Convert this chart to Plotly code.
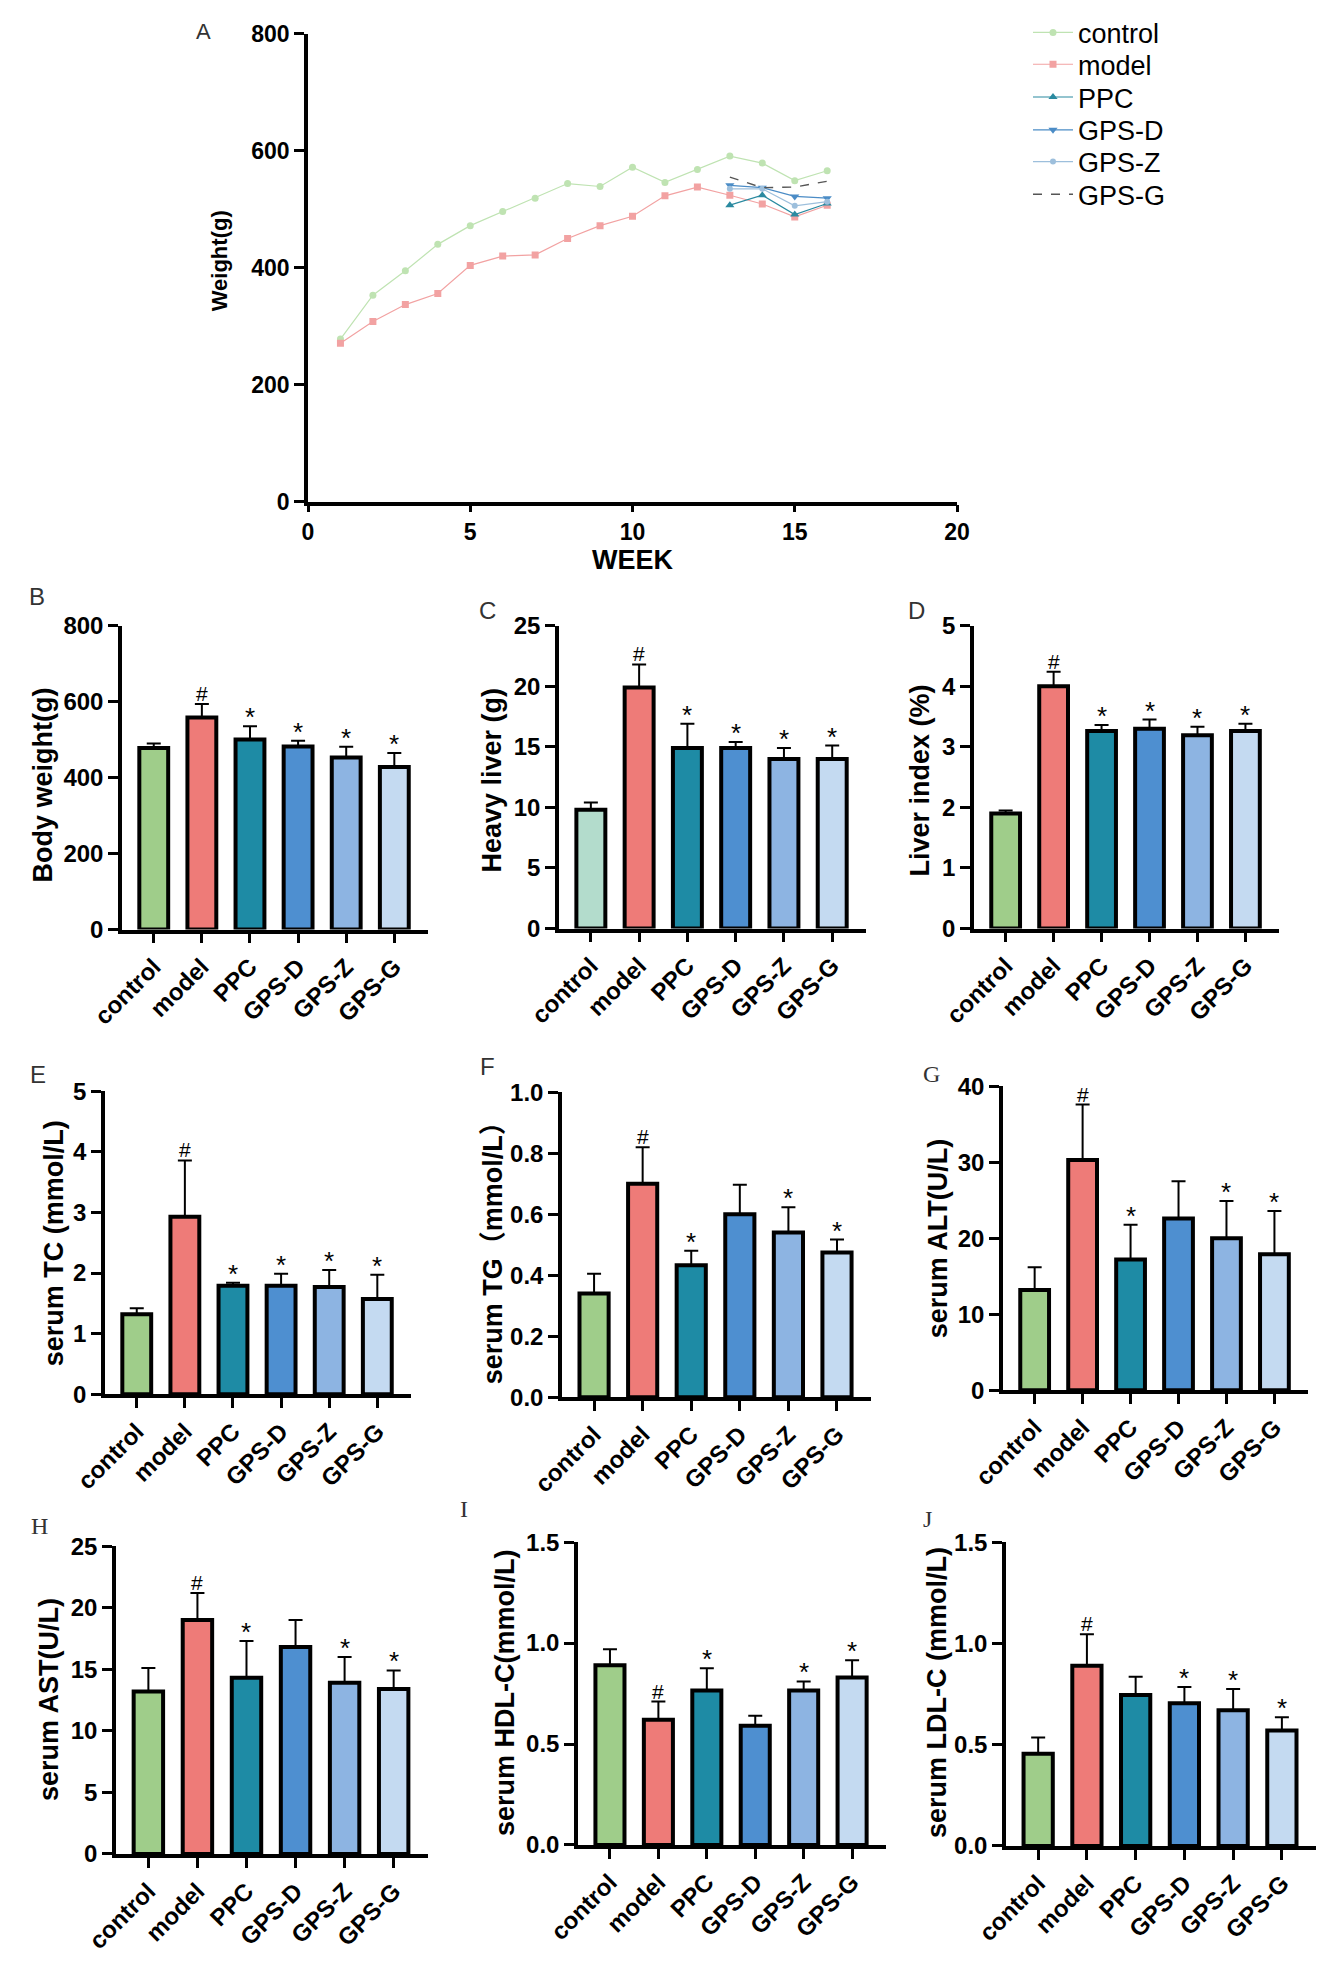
import plotly.graph_objects as go

W, H = 1325, 1972
# small page offset correction; positions below are in page pixels
OX, OY = 2, 12

# ---- panel A data (weekly body weight, g) ----
weeks = list(range(1, 17))
weeks_late = [13, 14, 15, 16]
control_w = [278, 353, 395, 440, 472, 496, 519, 544, 539, 572, 546, 568, 591, 579, 549, 566]
model_w = [271, 308, 337, 356, 404, 420, 422, 450, 472, 488, 523, 538, 524, 509, 487, 507]
ppc_w = [507, 524, 491, 510]
gpsd_w = [541, 537, 522, 519]
gpsz_w = [535, 535, 506, 513]
gpsg_w = [555, 537, 538, 548]

# ---- bar panels ----
groups = ["control", "model", "PPC", "GPS-D", "GPS-Z", "GPS-G"]

body_weight = [478, 558, 500, 482, 453, 428]
body_weight_err = [12, 36, 35, 15, 28, 37]
body_weight_sig = ["", "#", "*", "*", "*", "*"]

liver_weight = [9.8, 19.9, 14.9, 14.9, 14.0, 14.0]
liver_weight_err = [0.6, 1.9, 2.0, 0.5, 0.9, 1.1]
liver_weight_sig = ["", "#", "*", "*", "*", "*"]

liver_index = [1.90, 4.00, 3.26, 3.30, 3.19, 3.26]
liver_index_err = [0.05, 0.24, 0.10, 0.15, 0.14, 0.12]
liver_index_sig = ["", "#", "*", "*", "*", "*"]

tc = [1.32, 2.93, 1.79, 1.79, 1.77, 1.57]
tc_err = [0.10, 0.93, 0.05, 0.20, 0.28, 0.40]
tc_sig = ["", "#", "*", "*", "*", "*"]

tg = [0.34, 0.70, 0.433, 0.60, 0.54, 0.475]
tg_err = [0.065, 0.12, 0.047, 0.097, 0.083, 0.042]
tg_sig = ["", "#", "*", "", "*", "*"]

alt = [13.2, 30.3, 17.2, 22.6, 20.0, 17.9]
alt_err = [3.0, 7.3, 4.6, 4.9, 4.9, 5.7]
alt_sig = ["", "#", "*", "", "*", "*"]

ast = [13.2, 19.0, 14.3, 16.8, 13.9, 13.4]
ast_err = [1.9, 2.2, 3.0, 2.2, 2.1, 1.5]
ast_sig = ["", "#", "*", "", "*", "*"]

hdl = [0.89, 0.62, 0.765, 0.59, 0.765, 0.83]
hdl_err = [0.08, 0.09, 0.11, 0.05, 0.045, 0.085]
hdl_sig = ["", "#", "*", "", "*", "*"]

ldl = [0.455, 0.89, 0.745, 0.705, 0.67, 0.57]
ldl_err = [0.08, 0.155, 0.09, 0.08, 0.105, 0.065]
ldl_sig = ["", "#", "", "*", "*", "*"]

bar_colors = ["#9fcd8a", "#ee7b78", "#1e8ba5", "#4e8fd0", "#8db4e2", "#c4daf1"]
c_colors = ["#b3dccc", "#ee7b78", "#1e8ba5", "#4e8fd0", "#8db4e2", "#c4daf1"]

SANS = "Liberation Sans, Arial, Noto Sans CJK SC"
SERIF = "Liberation Serif, Times New Roman"


def px(x):
    return (x - OX) / W


def py(y):
    return 1 - (y - OY) / H


fig = go.Figure()
annotations = []
layout = {}

# ---- panel A ----
line_specs = [
    ("control", weeks, control_w, "#bfe3b2", "circle", 7, "solid"),
    ("model", weeks, model_w, "#f2a2a2", "square", 7, "solid"),
    ("PPC", weeks_late, ppc_w, "#2a8aa0", "triangle-up", 8, "solid"),
    ("GPS-D", weeks_late, gpsd_w, "#4b8cc6", "triangle-down", 8, "solid"),
    ("GPS-Z", weeks_late, gpsz_w, "#9dbfdc", "circle", 6, "solid"),
]
legend_rows = [23, 55, 88, 121, 153, 186]
legend_ids = ["legend", "legend2", "legend3", "legend4", "legend5", "legend6"]

for k, (name, xs, ys, col, sym, sz, dash) in enumerate(line_specs):
    fig.add_trace(go.Scatter(
        x=xs, y=ys, name=name, mode="lines+markers",
        line=dict(color=col, width=1.2, dash=dash),
        marker=dict(color=col, symbol=sym, size=sz),
        xaxis="x", yaxis="y", legend=legend_ids[k],
    ))
fig.add_trace(go.Scatter(
    x=weeks_late, y=gpsg_w, name="GPS-G", mode="lines",
    line=dict(color="#555555", width=1.4, dash="dash"),
    xaxis="x", yaxis="y", legend=legend_ids[5],
))
for lid, ry in zip(legend_ids, legend_rows):
    layout[lid] = dict(
        x=px(1022), y=py(ry), xanchor="left", yanchor="middle",
        font=dict(size=27, family=SANS), itemwidth=40,
        bgcolor="rgba(0,0,0,0)", borderwidth=0,
    )

axis_common = dict(
    showline=True, linecolor="black", linewidth=3.5, ticks="outside",
    tickwidth=3, ticklen=10, tickcolor="black", showgrid=False, zeroline=False,
    automargin=False, ticklabeloverflow="allow",
)

layout.update(
    width=W, height=H, margin=dict(l=0, r=0, t=0, b=0),
    paper_bgcolor="white", plot_bgcolor="white",
    font=dict(family=SANS, color="black"),
    showlegend=True,
    xaxis=dict(
        domain=[px(302), px(951)], range=[0, 20], dtick=5, anchor="y",
        tickfont=dict(size=23, weight="bold"), **{**axis_common, "ticklen": 7},
        title=dict(text="WEEK", font=dict(size=27, weight="bold"), standoff=6),
    ),
    yaxis=dict(
        domain=[py(495), py(24)], range=[0, 800], dtick=200, anchor="x",
        tickfont=dict(size=23, weight="bold"), **axis_common,
    ),
)
annotations.append(dict(
    text="Weight(g)", x=px(213), y=py(253), xref="paper", yref="paper",
    textangle=-90, showarrow=False, font=dict(size=22, weight="bold", family=SANS),
    xanchor="center", yanchor="middle",
))
annotations.append(dict(
    text="A", x=px(197), y=py(22), xref="paper", yref="paper", showarrow=False,
    font=dict(size=22, family=SANS, color="#333"), xanchor="center", yanchor="middle",
))

# ---- bar panels ----
panels = [
    (body_weight, body_weight_err, body_weight_sig, 800, 200, None, "Body weight(g)", "B", SANS, bar_colors,
     (116, 422, 620, 926), (37, 781), (31, 591)),
    (liver_weight, liver_weight_err, liver_weight_sig, 25, 5, None, "Heavy liver (g)", "C", SANS, c_colors,
     (553, 860, 620, 925), (486, 776), (482, 605)),
    (liver_index, liver_index_err, liver_index_sig, 5, 1, None, "Liver index (%)", "D", SANS, bar_colors,
     (968, 1273, 620, 925), (914, 776), (910, 605)),
    (tc, tc_err, tc_sig, 5, 1, None, "serum TC (mmol/L)", "E", SANS, bar_colors,
     (99, 405, 1089, 1394), (48, 1242), (32, 1072)),
    (tg, tg_err, tg_sig, 1.0, 0.2, ".1f", "serum TG（mmol/L）", "F", SANS, bar_colors,
     (556, 865, 1090, 1397), (487, 1245), (482, 1064)),
    (alt, alt_err, alt_sig, 40, 10, None, "serum ALT(U/L)", "G", SERIF, bar_colors,
     (997, 1302, 1084, 1390), (932, 1237), (925, 1072)),
    (ast, ast_err, ast_sig, 25, 5, None, "serum AST(U/L)", "H", SERIF, bar_colors,
     (110, 422, 1547, 1857), (43, 1702), (33, 1527)),
    (hdl, hdl_err, hdl_sig, 1.5, 0.5, ".1f", "serum HDL-C(mmol/L)", "I", SERIF, bar_colors,
     (572, 880, 1543, 1848), (499, 1695), (458, 1510)),
    (ldl, ldl_err, ldl_sig, 1.5, 0.5, ".1f", "serum LDL-C (mmol/L)", "J", SERIF, bar_colors,
     (1000, 1310, 1543, 1849), (931, 1695), (922, 1520)),
]

for i, (vals, errs, sigs, ymax, dtick, fmt, ytitle, letter, lfont, cols,
        (x0, x1, y0, y1), (tx, ty), (lx, ly)) in enumerate(panels):
    n = i + 2
    xa, ya = f"x{n}", f"y{n}"
    fig.add_trace(go.Bar(
        x=groups, y=vals, xaxis=xa, yaxis=ya, showlegend=False, width=0.6,
        marker=dict(color=cols, line=dict(color="black", width=4)),
        error_y=dict(type="data", array=errs, arrayminus=[0] * len(errs), symmetric=False,
                     color="black", thickness=2, width=7),
    ))
    layout[f"xaxis{n}"] = dict(
        domain=[px(x0), px(x1)], range=[-0.66, 5.7], anchor=ya, type="category",
        tickangle=-45, tickfont=dict(size=24, weight="bold"), **axis_common,
    )
    yax = dict(
        domain=[py(y1), py(y0)], range=[0, ymax], dtick=dtick, anchor=xa,
        tickfont=dict(size=24, weight="bold"), **axis_common,
    )
    if fmt:
        yax["tickformat"] = fmt
    layout[f"yaxis{n}"] = yax
    annotations.append(dict(
        text=ytitle, x=px(tx), y=py(ty), xref="paper", yref="paper", textangle=-90,
        showarrow=False, font=dict(size=27, weight="bold", family=SANS),
        xanchor="center", yanchor="middle",
    ))
    annotations.append(dict(
        text=letter, x=px(lx), y=py(ly), xref="paper", yref="paper", showarrow=False,
        font=dict(size=24, family=lfont, color="#333"), xanchor="center", yanchor="middle",
    ))
    for g, v, e, s in zip(groups, vals, errs, sigs):
        if s:
            annotations.append(dict(
                text=s, x=g, y=v + e, xref=xa, yref=ya, showarrow=False,
                xanchor="center", yanchor="bottom", yshift=-8 if s == "*" else -3,
                font=dict(size=26 if s == "*" else 21, family=SANS, color="black"),
            ))

layout["annotations"] = annotations
fig.update_layout(**layout)
fig.write_html("out.html")
